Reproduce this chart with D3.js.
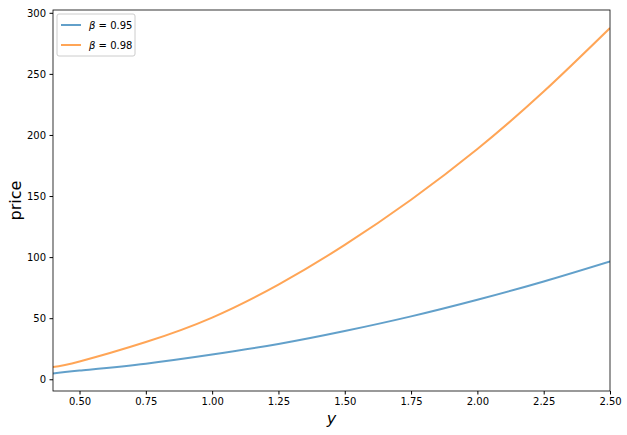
<!DOCTYPE html>
<html>
<head>
<meta charset="utf-8">
<script src="https://cdn.jsdelivr.net/npm/d3@7"></script>
<style>
  body { margin: 0; background: #fff; }
  text { font-family: "DejaVu Sans", sans-serif; fill: #000; }
  .tick text { font-size: 10px; }
  .tick line { stroke: #000; }
  .domain { display: none; }
</style>
</head>
<body>
<svg width="627" height="435"></svg>
<script>
// values
const ys = [0.4, 0.5, 0.75, 1.0, 1.25, 1.5, 1.75, 2.0, 2.25, 2.5];
const price95 = [4.7, 7.1, 12.8, 20.2, 28.9, 39.5, 51.5, 65.1, 80.1, 96.5];
const price98 = [10.0, 14.6, 30.5, 50.5, 77.5, 110.0, 147.0, 188.5, 235.5, 287.5];
const seriesNames = ['0.95', '0.98'];
const xTicks = [0.5, 0.75, 1.0, 1.25, 1.5, 1.75, 2.0, 2.25, 2.5];
const yTicks = [0, 50, 100, 150, 200, 250, 300];

function whenLoaded() {
const svg = d3.select('svg');
const left = 53, right = 610, top = 10, bottom = 391;

const x = d3.scaleLinear().domain([0.4, 2.5]).range([left, right]);
const y = d3.scaleLinear().domain([-9.6, 302.3]).range([bottom, top]);

const colors = ['#1f77b4', '#ff7f0e'];
const series = [price95, price98].map(vals => ys.map((v, i) => [v, vals[i]]));

const line = d3.line()
  .x(d => x(d[0]))
  .y(d => y(d[1]))
  .curve(d3.curveNatural);

svg.append('defs').append('clipPath').attr('id', 'clip')
  .append('rect')
    .attr('x', left).attr('y', top)
    .attr('width', right - left).attr('height', bottom - top);

svg.append('g').attr('clip-path', 'url(#clip)')
  .selectAll('path').data(series)
  .enter().append('path')
    .attr('d', line)
    .attr('fill', 'none')
    .attr('stroke', (d, i) => colors[i])
    .attr('stroke-opacity', 0.7)
    .attr('stroke-width', 2);

svg.append('g')
  .attr('transform', `translate(0,${bottom})`)
  .call(d3.axisBottom(x).tickValues(xTicks).tickFormat(d3.format('.2f')).tickSize(3.5).tickPadding(3.5));

svg.append('g')
  .attr('transform', `translate(${left},0)`)
  .call(d3.axisLeft(y).tickValues(yTicks).tickSize(3.5).tickPadding(3.5));

svg.append('rect')
  .attr('x', left).attr('y', top)
  .attr('width', right - left).attr('height', bottom - top)
  .attr('fill', 'none')
  .attr('stroke', '#000')
  .attr('stroke-width', 0.8);

svg.append('text')
  .attr('x', (left + right) / 2)
  .attr('y', 424)
  .attr('text-anchor', 'middle')
  .style('font-size', '16px')
  .style('font-style', 'italic')
  .text('y');

svg.append('text')
  .attr('transform', `translate(21,${(top + bottom) / 2}) rotate(-90)`)
  .attr('text-anchor', 'middle')
  .style('font-size', '16px')
  .text('price');

// legend
const legend = svg.append('g').attr('transform', 'translate(57,14)');
legend.append('rect')
  .attr('width', 78).attr('height', 42)
  .attr('rx', 2)
  .attr('fill', '#fff')
  .attr('fill-opacity', 0.8)
  .attr('stroke', '#ccc')
  .attr('stroke-width', 1);

const item = legend.selectAll('g.item').data(seriesNames)
  .enter().append('g')
    .attr('class', 'item')
    .attr('transform', (d, i) => `translate(0,${11 + i * 20})`);

item.append('line')
  .attr('x1', 4).attr('x2', 24)
  .attr('stroke', (d, i) => colors[i])
  .attr('stroke-opacity', 0.7)
  .attr('stroke-width', 2);

const label = item.append('text')
  .attr('x', 32)
  .attr('dy', '0.35em')
  .style('font-size', '10px');
label.append('tspan').style('font-style', 'italic').text('β');
label.append('tspan').text(d => ' = ' + d);
}

window.onload = whenLoaded;
</script>
</body>
</html>
